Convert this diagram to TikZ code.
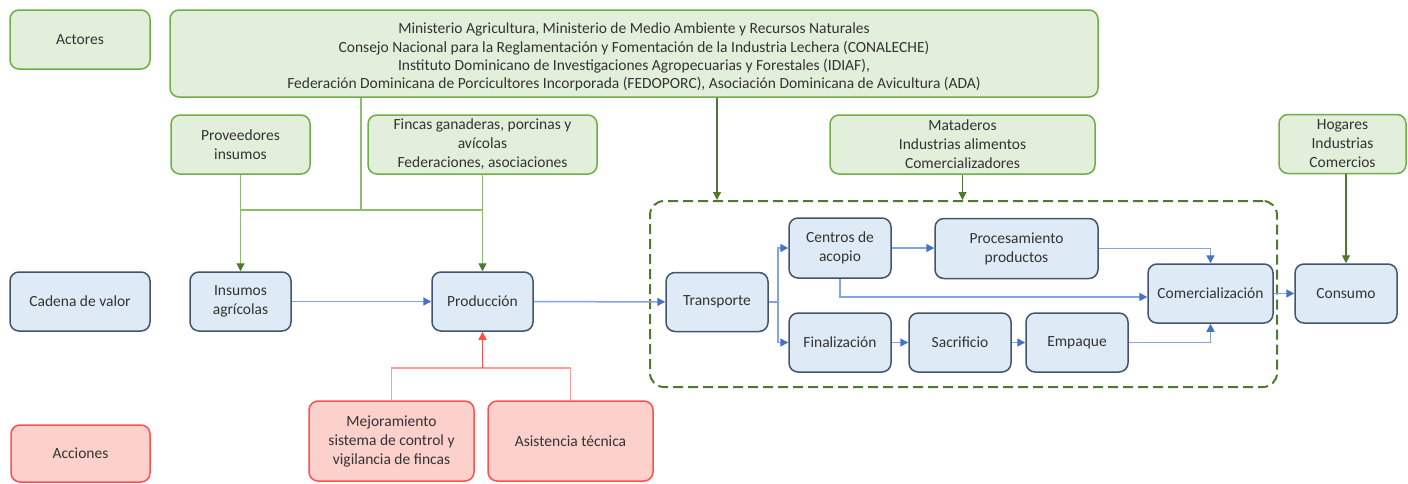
\documentclass[tikz,border=0pt]{standalone}
\usepackage{fontspec}
\setmainfont{Carlito}
\usetikzlibrary{arrows.meta,calc}
\definecolor{gfill}{HTML}{E2EFDA}
\definecolor{gline}{HTML}{70AD47}
\definecolor{glight}{HTML}{8FBC6E}
\definecolor{gdark}{HTML}{4E7A30}
\definecolor{bfill}{HTML}{DEEBF7}
\definecolor{bline}{HTML}{44546A}
\definecolor{rfill}{HTML}{FCD0CB}
\definecolor{rline}{HTML}{FF5050}
\definecolor{rlight}{HTML}{FF9C9C}
\definecolor{barrow}{HTML}{4472C4}
\definecolor{blight}{HTML}{82A4E0}
\definecolor{txt}{HTML}{333333}
\tikzset{
  box/.style={rounded corners=9pt, line width=1.5pt, align=center, inner sep=2pt,
    text=txt, font=\fontsize{15.5}{19}\selectfont},
  gbox/.style={box, draw=gline, fill=gfill},
  bbox/.style={box, draw=bline, fill=bfill},
  rbox/.style={box, draw=rline, fill=rfill},
  sz/.style 2 args={minimum width=#1pt, minimum height=#2pt},
  gl/.style={glight, line width=1.2pt},
  garr/.style={gl, -{Triangle[length=8pt,width=8pt,color=gdark,fill=gdark]}},
  gdarr/.style={gdark, line width=1.1pt, -{Triangle[length=8pt,width=8pt,color=gdark,fill=gdark]}},
  bl/.style={blight, line width=1.5pt},
  barr/.style={bl, -{Triangle[length=8pt,width=8pt,color=barrow,fill=barrow]}},
  rl/.style={rlight, line width=1.5pt},
  rarr/.style={rline, line width=1.5pt, -{Triangle[length=8pt,width=8pt,color=rline,fill=rline]}},
}
\begin{document}
\begin{tikzpicture}[x=1pt,y=-1pt]
\useasboundingbox (0,0) rectangle (1408,483);
% left labels
\node[gbox, sz={140}{59}] (actores) at (80,39.5) {Actores};
\node[bbox, sz={140}{59}] (cadena) at (80,301.5) {Cadena de valor};
\node[rbox, sz={139}{57}] (acciones) at (80.5,453.5) {Acciones};
% actors
\node[gbox, sz={928}{87}] (top) at (634,53.5) {\raisebox{-4pt}[\height][\depth]{\begin{tabular}{c}
Ministerio Agricultura, Ministerio de Medio Ambiente y Recursos Naturales\\[-0.6pt]
Consejo Nacional para la Reglamentación y Fomentación de la Industria Lechera (CONALECHE)\\[-0.6pt]
Instituto Dominicano de Investigaciones Agropecuarias y Forestales (IDIAF),\\[-0.6pt]
Federación Dominicana de Porcicultores Incorporada (FEDOPORC), Asociación Dominicana de Avicultura (ADA)
\end{tabular}}};
\node[gbox, sz={139}{59}] (prov) at (240.5,144.5) {Proveedores\\insumos};
\node[gbox, sz={229}{59}] (fincas) at (482.5,144.5) {Fincas ganaderas, porcinas y\\avícolas\\Federaciones, asociaciones};
\node[gbox, sz={265}{59}] (mat) at (962.5,144.5) {Mataderos\\Industrias alimentos\\Comercializadores};
\node[gbox, sz={127}{59}] (hog) at (1342.5,144) {Hogares\\Industrias\\Comercios};
% dashed group
\node[draw=gdark, line width=2pt, dash pattern=on 10pt off 5pt, rounded corners=14pt,
  sz={627}{186}] (grp) at (963.5,294) {};
% value chain
\node[bbox, sz={101}{59}] (insumos) at (240.5,301.5) {Insumos\\agrícolas};
\node[bbox, sz={101}{59}] (prod) at (482.5,301.5) {Producción};
\node[bbox, sz={102}{59}] (trans) at (717,302) {Transporte};
\node[bbox, sz={102}{60}] (centros) at (840,248) {Centros de\\acopio};
\node[bbox, sz={163}{60}] (proc) at (1016.5,248.5) {Procesamiento\\productos};
\node[bbox, sz={102}{59}] (final) at (840,342.5) {Finalización};
\node[bbox, sz={102}{59}] (sacr) at (960,342.5) {Sacrificio};
\node[bbox, sz={102}{59}] (emp) at (1077,342.5) {Empaque};
\node[bbox, sz={125}{59}] (com) at (1210.5,293.5) {Comercialización};
\node[bbox, sz={102}{59}] (cons) at (1346,293.5) {Consumo};
% actions
\node[rbox, sz={165}{80}] (mejo) at (391.5,441) {Mejoramiento\\sistema de control y\\vigilancia de fincas};
\node[rbox, sz={165}{80}] (asist) at (570.5,441) {Asistencia técnica};
% green connectors
\coordinate (j) at (361,210);
\draw[gl] (top.south -| j) -- (j);
\draw[gl] (prov.south |- j) -- (fincas.south |- j);
\draw[garr] (prov.south) -- (insumos.north);
\draw[garr] (fincas.south) -- (prod.north);
\draw[gdarr] (top.south -| trans.north) -- (grp.north -| trans.north);
\draw[gdarr] (mat.south) -- (mat.south |- grp.north);
\draw[gdarr] (hog.south -| cons.north) -- (cons.north);
% blue connectors
\coordinate (tb) at (778,302);
\draw[barr] (insumos) -- (prod);
\draw[barr] (prod) -- (trans);
\draw[bl] (trans.east) -- (tb);
\draw[barr] (tb) |- (centros.west);
\draw[barr] (tb) |- (final.west);
\draw[barr] (centros.east) -- (proc.west |- centros.east);
\draw[barr] (centros.south) |- ($(com.west)+(0,3.5)$);
\draw[barr] (proc.east) -| (com.north);
\draw[barr] (final) -- (sacr);
\draw[barr] (sacr) -- (emp);
\draw[barr] (emp.east) -| (com.south);
\draw[barr] (com) -- (cons);
% red connectors
\coordinate (rj) at (482.5,368);
\draw[rl] (mejo.north) |- (rj) -| (asist.north);
\draw[rarr] (rj) -- (prod.south);
\end{tikzpicture}
\end{document}
